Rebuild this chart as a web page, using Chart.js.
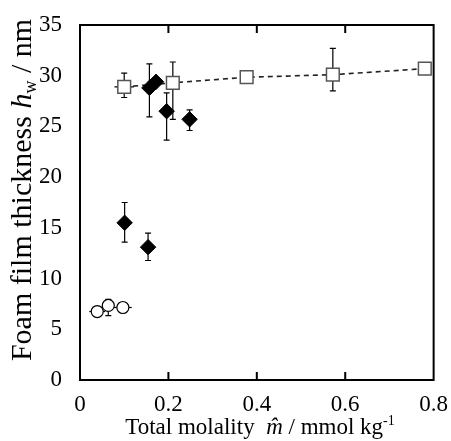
<!DOCTYPE html>
<html>
<head>
<meta charset="utf-8">
<script src="https://cdn.jsdelivr.net/npm/chart.js@4/dist/chart.umd.min.js"></script>
<style>
  body { margin: 0; background: #fff; }
  canvas { display: block; }
</style>
</head>
<body>
<canvas id="chart" width="451" height="441"></canvas>
<script>
// open squares (with dashed line)
var squareX = [0.10, 0.21, 0.377, 0.572, 0.78]
var squareY = [28.9, 29.3, 29.85, 30.1, 30.7]
var squareUp = [1.35, 2.05, 0, 2.6, 0]
var squareDown = [1.05, 3.6, 0, 1.6, 0]
var squareXErr = [0.022, 0, 0, 0, 0]

// filled diamonds
var diamondX = [0.101, 0.154, 0.157, 0.172, 0.196, 0.248]
var diamondY = [15.5, 13.1, 28.8, 29.4, 26.5, 25.7]
var diamondUp = [2.0, 1.38, 2.36, 0, 1.8, 0.93]
var diamondDown = [1.9, 1.32, 2.85, 0, 2.85, 1.1]

// open circles
var circleX = [0.039, 0.064, 0.097]
var circleY = [6.75, 7.35, 7.15]
var circleUp = [0, 0.6, 0]
var circleDown = [0, 1.0, 0]
var circleXErr = [0.018, 0, 0.02]

var xTicks = [0, 0.2, 0.4, 0.6, 0.8]
var yTicks = [0, 5, 10, 15, 20, 25, 30, 35]

var SERIF = '"Liberation Serif", "DejaVu Serif", serif'

function toPoints(xs, ys) {
  return xs.map(function (x, i) { return { x: x, y: ys[i] } })
}

var errorSets = [
  { xs: squareX, ys: squareY, up: squareUp, down: squareDown, xerr: squareXErr },
  { xs: diamondX, ys: diamondY, up: diamondUp, down: diamondDown },
  { xs: circleX, ys: circleY, up: circleUp, down: circleDown, xerr: circleXErr },
]

var errorBars = {
  id: "errorBars",
  beforeDatasetsDraw: function (chart) {
    var ctx = chart.ctx
    var xs = chart.scales.x, ys = chart.scales.y
    var cap = 3
    ctx.save()
    ctx.strokeStyle = "#000"
    ctx.lineWidth = 1.2
    errorSets.forEach(function (s) {
      s.xs.forEach(function (xv, i) {
        var px = xs.getPixelForValue(xv)
        var py = ys.getPixelForValue(s.ys[i])
        ctx.beginPath()
        if (s.up[i] || s.down[i]) {
          var top = ys.getPixelForValue(s.ys[i] + s.up[i])
          var bot = ys.getPixelForValue(s.ys[i] - s.down[i])
          ctx.moveTo(px, top); ctx.lineTo(px, bot)
          ctx.moveTo(px - cap, top); ctx.lineTo(px + cap, top)
          ctx.moveTo(px - cap, bot); ctx.lineTo(px + cap, bot)
        }
        if (s.xerr && s.xerr[i]) {
          ctx.moveTo(xs.getPixelForValue(xv - s.xerr[i]), py)
          ctx.lineTo(xs.getPixelForValue(xv + s.xerr[i]), py)
        }
        ctx.stroke()
      })
    })
    ctx.restore()
  },
}

function drawParts(ctx, parts, x, y) {
  parts.forEach(function (p) {
    ctx.font = p.font
    ctx.fillText(p.text, x, y + (p.dy || 0))
    x += ctx.measureText(p.text).width
  })
}

function partsWidth(ctx, parts) {
  var w = 0
  parts.forEach(function (p) {
    ctx.font = p.font
    w += ctx.measureText(p.text).width
  })
  return w
}

var frame = {
  id: "frame",
  afterDraw: function (chart) {
    var ctx = chart.ctx
    var a = chart.chartArea
    var xs = chart.scales.x
    ctx.save()
    ctx.strokeStyle = "#000"
    ctx.lineWidth = 2
    ctx.strokeRect(a.left, a.top, a.right - a.left, a.bottom - a.top)
    ctx.beginPath()
    xTicks.slice(1, -1).forEach(function (v) {
      var px = xs.getPixelForValue(v)
      ctx.moveTo(px, a.bottom); ctx.lineTo(px, a.bottom - 8)
      ctx.moveTo(px, a.top); ctx.lineTo(px, a.top + 8)
    })
    ctx.stroke()

    // axis titles
    ctx.fillStyle = "#000"
    ctx.textBaseline = "alphabetic"
    ctx.textAlign = "left"

    var xParts = [
      { text: "Total molality  ", font: "23px " + SERIF },
      { text: "m\u0302", font: "italic 23px " + SERIF },
      { text: " / mmol kg", font: "23px " + SERIF },
      { text: "-1", font: "14px " + SERIF, dy: -9 },
    ]
    var w = partsWidth(ctx, xParts)
    drawParts(ctx, xParts, 260 - w / 2, 434)

    var yParts = [
      { text: "Foam film thickness ", font: "30px " + SERIF },
      { text: "h", font: "italic 30px " + SERIF },
      { text: "w", font: "18px " + SERIF, dy: 5 },
      { text: " / nm", font: "30px " + SERIF },
    ]
    var wy = partsWidth(ctx, yParts)
    ctx.translate(31, 190)
    ctx.rotate(-Math.PI / 2)
    drawParts(ctx, yParts, -wy / 2, 0)
    ctx.restore()
  },
}

new Chart(document.getElementById("chart"), {
  type: "scatter",
  data: {
    datasets: [
      {
        label: "diamonds",
        data: toPoints(diamondX, diamondY),
        pointStyle: "rectRot",
        pointRadius: 7.7,
        backgroundColor: "#000",
        borderColor: "#000",
        borderWidth: 1,
      },
      {
        label: "squares",
        data: toPoints(squareX, squareY),
        showLine: true,
        borderDash: [5, 4],
        borderWidth: 1.6,
        borderColor: "#222",
        pointStyle: "rect",
        pointRadius: 9,
        pointBackgroundColor: "#fff",
        pointBorderColor: "#555",
        pointBorderWidth: 1.5,
      },
      {
        label: "circles",
        data: toPoints(circleX, circleY),
        pointStyle: "circle",
        pointRadius: 6,
        backgroundColor: "#fff",
        borderColor: "#000",
        borderWidth: 1.2,
      },
    ],
  },
  options: {
    responsive: false,
    animation: false,
    layout: { padding: { left: 0, top: 25, right: 15, bottom: 0 } },
    plugins: {
      legend: { display: false },
      tooltip: { enabled: false },
    },
    scales: {
      x: {
        type: "linear",
        min: 0,
        max: 0.8,
        afterBuildTicks: function (scale) {
          scale.ticks = xTicks.map(function (v) { return { value: v } })
        },
        afterFit: function (scale) { scale.height = 61 },
        ticks: {
          color: "#000",
          padding: 3,
          font: { family: SERIF, size: 23 },
          callback: function (v) { return String(v) },
        },
        grid: { display: false },
        border: { display: false },
      },
      y: {
        type: "linear",
        min: 0,
        max: 35,
        afterBuildTicks: function (scale) {
          scale.ticks = yTicks.map(function (v) { return { value: v } })
        },
        afterFit: function (scale) { scale.width = 80 },
        ticks: {
          color: "#000",
          padding: 10,
          font: { family: SERIF, size: 23 },
          callback: function (v) { return String(v) },
        },
        grid: { display: false },
        border: { display: false },
      },
    },
  },
  plugins: [errorBars, frame],
})
</script>
</body>
</html>
